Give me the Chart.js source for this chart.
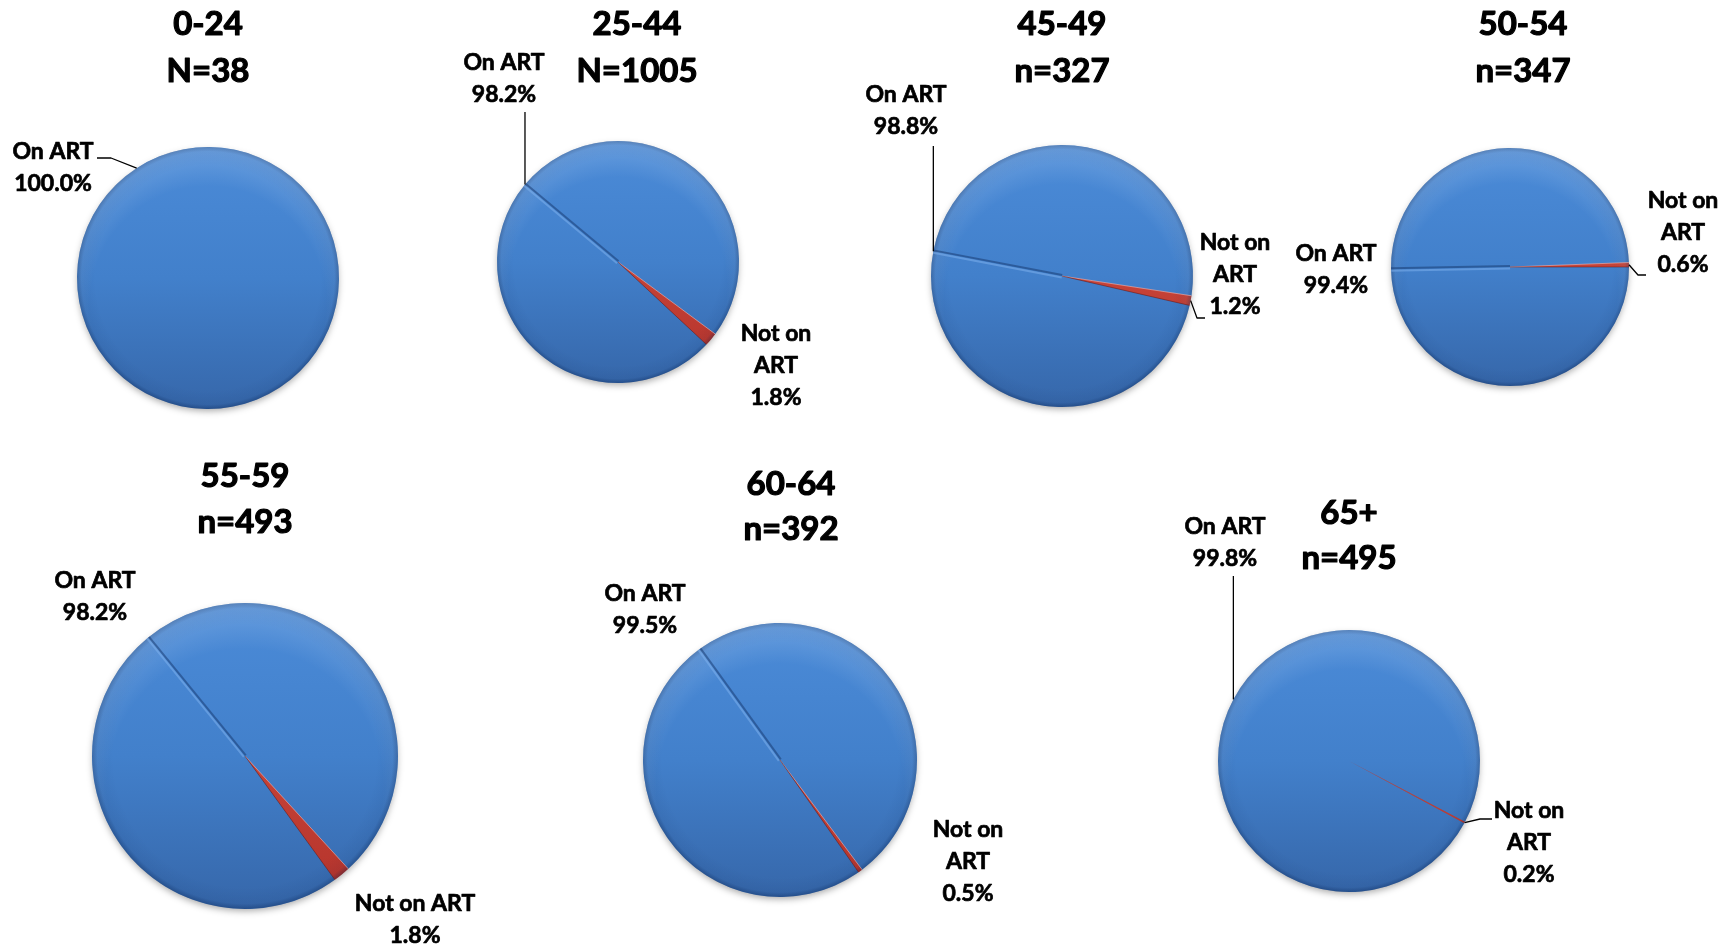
<!DOCTYPE html>
<html><head><meta charset="utf-8">
<script src="https://cdn.jsdelivr.net/npm/chart.js@4.4.0/dist/chart.umd.min.js"></script>
<style>
html,body{margin:0;padding:0;background:#fff;width:1736px;height:944px;overflow:hidden;}
#wrap{position:relative;width:1736px;height:944px;}
#wrap canvas{position:absolute;left:0;top:0;pointer-events:none;}
</style></head><body><div id="wrap"></div>
<script>
// ---- data ----
const categories = ['On ART', 'Not on ART'];
const groups = ['0-24', '25-44', '45-49', '50-54', '55-59', '60-64', '65+'];
const sampleSizes = ['N=38', 'N=1005', 'n=327', 'n=347', 'n=493', 'n=392', 'n=495'];
const onArt = [100.0, 98.2, 98.8, 99.4, 98.2, 99.5, 99.8];
const notOnArt = [0.0, 1.8, 1.2, 0.6, 1.8, 0.5, 0.2];

// ---- layout (page pixels) ----
const layout = [
  {cx:208, cy:278, r:131, rot:147, tx:208, ty:[24,71], ridge:false,
   labels:[{i:0, x:53, y:152, wrap:false, leader:{pts:[[97,158],[111,158]]}}]},
  {cx:618, cy:262, r:121, rot:133, tx:637, ty:[24,71], ridge:true,
   labels:[{i:0, x:504, y:63, wrap:false, leader:{vertical:112}},
           {i:1, x:776, y:334, wrap:true}]},
  {cx:1062, cy:276, r:131, rot:103, tx:1062, ty:[24,71], ridge:true,
   labels:[{i:0, x:906, y:95, wrap:false, leader:{vertical:146}},
           {i:1, x:1235, y:243, wrap:true, leader:{pts:[[1205,318],[1197,318]]}}]},
  {cx:1510, cy:267, r:119, rot:90, tx:1523, ty:[24,71], ridge:true,
   labels:[{i:0, x:1336, y:254, wrap:false},
           {i:1, x:1683, y:201, wrap:true, leader:{pts:[[1646,275],[1638,275]]}}]},
  {cx:245, cy:756, r:153, rot:144, tx:245, ty:[476,522], ridge:true,
   labels:[{i:0, x:95, y:581, wrap:false},
           {i:1, x:415, y:904, wrap:false}]},
  {cx:780, cy:760, r:137, rot:145, tx:791, ty:[484,529], ridge:true,
   labels:[{i:0, x:645, y:594, wrap:false},
           {i:1, x:968, y:830, wrap:true}]},
  {cx:1349, cy:761, r:131, rot:118.4, tx:1349, ty:[513,558], ridge:false,
   labels:[{i:0, x:1225, y:527, wrap:false, leader:{vertical:576}},
           {i:1, x:1529, y:811, wrap:true, leader:{pts:[[1492,819],[1480,819]]}}]}
];

const W = 1736, H = 944;
const FONT = "Lato, 'Open Sans', 'DejaVu Sans', sans-serif";

function fill(c){
  const chart = c.chart, a = chart.chartArea;
  if (!a) return c.dataIndex === 0 ? '#4079C4' : '#C0392B';
  const g = chart.ctx.createLinearGradient(0, a.top, 0, a.bottom);
  if (c.dataIndex === 0) { g.addColorStop(0, '#4B8BD8'); g.addColorStop(0.5,'#4280CB'); g.addColorStop(1, '#3667AA'); }
  else { g.addColorStop(0, '#DA5446'); g.addColorStop(1, '#B3322A'); }
  return g;
}

function boldText(ctx, s, x, y, w){
  ctx.fillText(s, x, y);
  ctx.lineWidth = w; ctx.strokeStyle = '#000'; ctx.lineJoin = 'round';
  ctx.strokeText(s, x, y);
}

const pieDecor = {
  id: 'pieDecor',
  beforeDatasetsDraw(chart){
    const arc = chart.getDatasetMeta(0).data[0];
    const ctx = chart.ctx;
    ctx.save();
    ctx.shadowColor = 'rgba(0,0,0,0.35)';
    ctx.shadowBlur = 7; ctx.shadowOffsetY = 3;
    ctx.beginPath(); ctx.arc(arc.x, arc.y, arc.outerRadius - 1, 0, Math.PI*2);
    ctx.fillStyle = '#3A6FB3'; ctx.fill();
    ctx.restore();
  },
  afterDatasetsDraw(chart, args, opts){
    const meta = chart.getDatasetMeta(0);
    const arc = meta.data[0];
    const cx = arc.x, cy = arc.y, R = arc.outerRadius;
    const ctx = chart.ctx;
    ctx.save();
    ctx.beginPath(); ctx.arc(cx, cy, R, 0, Math.PI*2); ctx.clip();
    // bevel rim
    const rg = ctx.createRadialGradient(cx, cy, R*0.86, cx, cy, R);
    rg.addColorStop(0, 'rgba(0,25,70,0)');
    rg.addColorStop(0.75, 'rgba(0,25,70,0.06)');
    rg.addColorStop(1, 'rgba(0,25,70,0.32)');
    ctx.fillStyle = rg; ctx.fillRect(cx-R, cy-R, 2*R, 2*R);
    // top highlight
    const hg = ctx.createRadialGradient(cx, cy + R*0.2, R*0.9, cx, cy + R*0.2, R*1.2);
    hg.addColorStop(0, 'rgba(255,255,255,0)');
    hg.addColorStop(1, 'rgba(255,255,255,0.18)');
    ctx.fillStyle = hg; ctx.fillRect(cx-R, cy-R, 2*R, 2*R);
    // ridge lines (slice mid line and slice edges)
    if (opts.layout.ridge) {
      const a0 = meta.data[0];
      const mid = (a0.startAngle + a0.endAngle) / 2;
      const ex = cx + R*Math.cos(mid), ey = cy + R*Math.sin(mid);
      const nx = Math.sin(mid), ny = -Math.cos(mid);
      ctx.lineWidth = 2;
      ctx.strokeStyle = 'rgba(25,60,115,0.55)';
      ctx.beginPath(); ctx.moveTo(ex - nx, ey - ny); ctx.lineTo(cx - nx, cy - ny); ctx.stroke();
      ctx.strokeStyle = 'rgba(130,180,240,0.5)';
      ctx.beginPath(); ctx.moveTo(ex + 1.5*nx, ey + 1.5*ny); ctx.lineTo(cx + 1.5*nx, cy + 1.5*ny); ctx.stroke();
      const a1 = meta.data[1];
      ctx.lineWidth = 1;
      ctx.strokeStyle = 'rgba(255,190,180,0.55)';
      ctx.beginPath(); ctx.moveTo(cx, cy); ctx.lineTo(cx+R*Math.cos(a1.startAngle), cy+R*Math.sin(a1.startAngle)); ctx.stroke();
      ctx.strokeStyle = 'rgba(100,20,15,0.5)';
      ctx.beginPath(); ctx.moveTo(cx, cy); ctx.lineTo(cx+R*Math.cos(a1.endAngle), cy+R*Math.sin(a1.endAngle)); ctx.stroke();
    }
    ctx.restore();
  },
  afterDraw(chart, args, opts){
    const ctx = chart.ctx;
    const L = opts.layout;
    const meta = chart.getDatasetMeta(0);
    ctx.save();
    ctx.fillStyle = '#000';
    ctx.textAlign = 'center'; ctx.textBaseline = 'middle';
    // titles
    ctx.font = "bold 33px " + FONT;
    opts.title.forEach((t, k) => boldText(ctx, t, L.tx, L.ty[k], 1.2));
    // labels
    ctx.font = "bold 23px " + FONT;
    L.labels.forEach(lb => {
      const vals = chart.data.datasets[0].data;
      const cat = chart.data.labels[lb.i];
      let lines;
      if (lb.wrap && cat.indexOf(' ') > 0) {
        const p = cat.lastIndexOf(' ');
        lines = [cat.slice(0, p), cat.slice(p+1)];
      } else lines = [cat];
      lines.push(vals[lb.i].toFixed(1) + '%');
      lines.forEach((s, k) => boldText(ctx, s, lb.x, lb.y + k*32, 0.7));
      if (lb.leader) {
        const a = meta.data[lb.i];
        const mid = (a.startAngle + a.endAngle) / 2;
        const ex = a.x + a.outerRadius*Math.cos(mid), ey = a.y + a.outerRadius*Math.sin(mid);
        ctx.strokeStyle = '#000'; ctx.lineWidth = 1.3;
        ctx.beginPath();
        if (lb.leader.vertical !== undefined) {
          ctx.moveTo(ex, lb.leader.vertical); ctx.lineTo(ex, ey);
        } else {
          lb.leader.pts.forEach((p, k) => k === 0 ? ctx.moveTo(p[0], p[1]) : ctx.lineTo(p[0], p[1]));
          ctx.lineTo(ex, ey);
        }
        ctx.stroke();
      }
    });
    ctx.restore();
  }
};

const wrap = document.getElementById('wrap');
groups.forEach((g, k) => {
  const L = layout[k];
  const cv = document.createElement('canvas');
  cv.width = W; cv.height = H;
  cv.style.width = W + 'px'; cv.style.height = H + 'px';
  wrap.appendChild(cv);
  new Chart(cv, {
    type: 'pie',
    data: {
      labels: categories,
      datasets: [{ data: [onArt[k], notOnArt[k]], backgroundColor: fill, borderWidth: 0 }]
    },
    options: {
      responsive: false, animation: false, devicePixelRatio: 1,
      rotation: L.rot,
      layout: { padding: { left: L.cx - L.r, top: L.cy - L.r, right: W - L.cx - L.r, bottom: H - L.cy - L.r } },
      plugins: {
        legend: { display: false }, tooltip: { enabled: false }, title: { display: false },
        pieDecor: { layout: L, title: [g, sampleSizes[k]] }
      },
      events: []
    },
    plugins: [pieDecor]
  });
});
</script>
</body></html>
